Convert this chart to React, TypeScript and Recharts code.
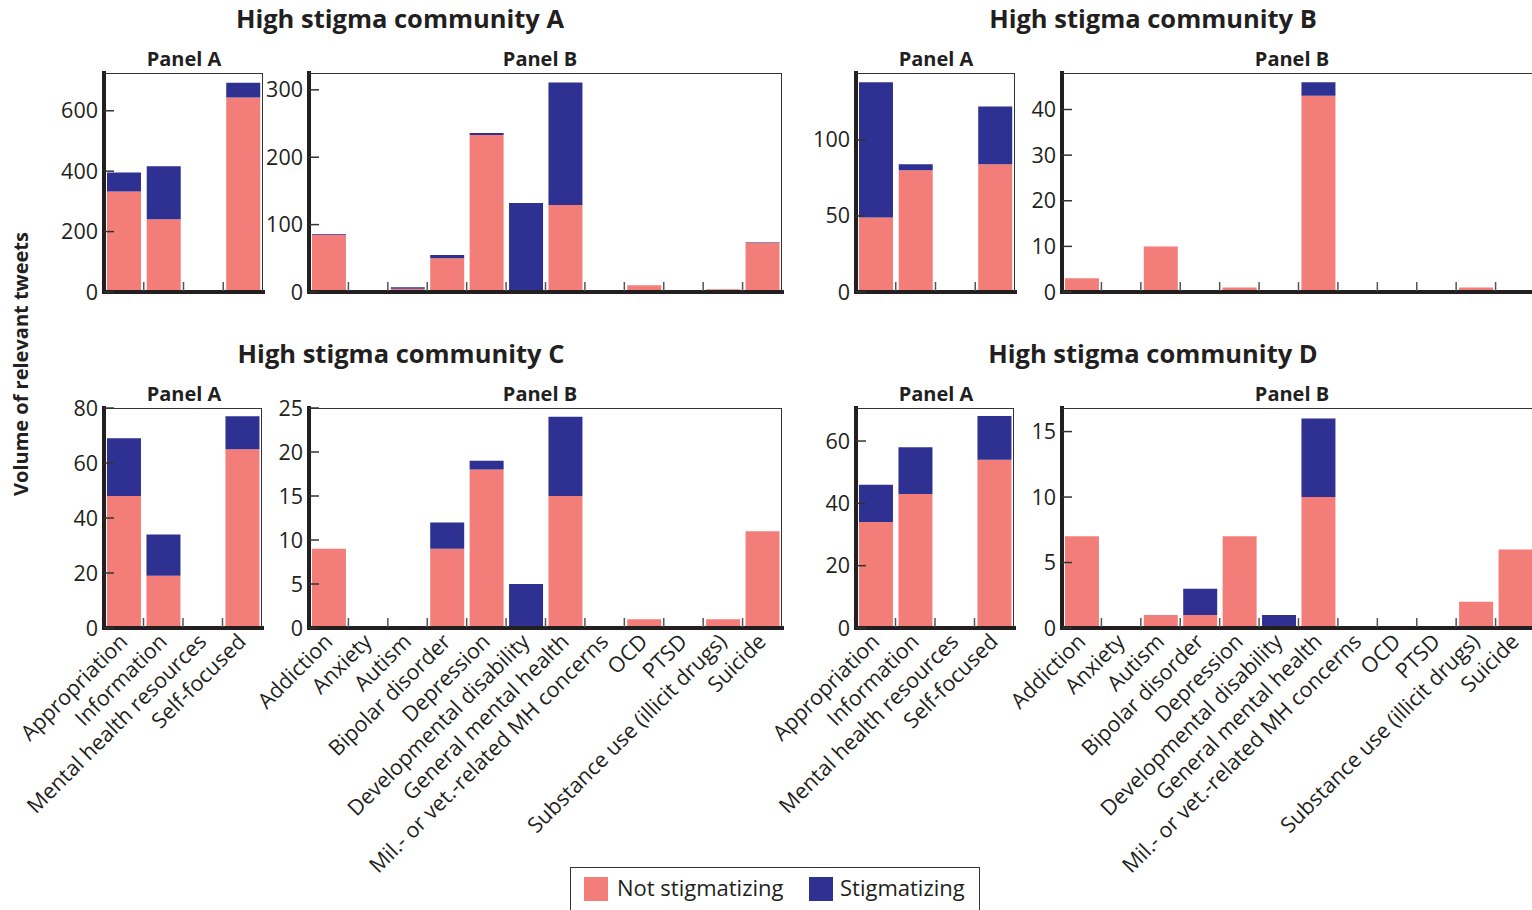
import React from "react";
import { BarChart, Bar, XAxis, YAxis } from "recharts";

// categories
const panelACats = ["Appropriation", "Information", "Mental health resources", "Self-focused"];
const panelBCats = [
  "Addiction",
  "Anxiety",
  "Autism",
  "Bipolar disorder",
  "Depression",
  "Developmental disability",
  "General mental health",
  "Mil.- or vet.-related MH concerns",
  "OCD",
  "PTSD",
  "Substance use (illicit drugs)",
  "Suicide",
];

// community A
const aPanelANot = [333, 241, 0, 644];
const aPanelAStig = [63, 175, 0, 49];
const aPanelBNot = [85, 0, 5, 50, 233, 0, 129, 0, 10, 0, 4, 73];
const aPanelBStig = [1, 0, 2, 5, 3, 132, 182, 0, 0, 0, 0, 1];

// community B
const bPanelANot = [49, 80, 0, 84];
const bPanelAStig = [89, 4, 0, 38];
const bPanelBNot = [3, 0, 10, 0, 1, 0, 43, 0, 0, 0, 1, 0];
const bPanelBStig = [0, 0, 0, 0, 0, 0, 3, 0, 0, 0, 0, 0];

// community C
const cPanelANot = [48, 19, 0, 65];
const cPanelAStig = [21, 15, 0, 12];
const cPanelBNot = [9, 0, 0, 9, 18, 0, 15, 0, 1, 0, 1, 11];
const cPanelBStig = [0, 0, 0, 3, 1, 5, 9, 0, 0, 0, 0, 0];

// community D
const dPanelANot = [34, 43, 0, 54];
const dPanelAStig = [12, 15, 0, 14];
const dPanelBNot = [7, 0, 1, 1, 7, 0, 10, 0, 0, 0, 2, 6];
const dPanelBStig = [0, 0, 0, 2, 0, 1, 6, 0, 0, 0, 0, 0];

// y ticks
const aPanelATicks = [0, 200, 400, 600];
const aPanelBTicks = [0, 100, 200, 300];
const bPanelATicks = [0, 50, 100];
const bPanelBTicks = [0, 10, 20, 30, 40];
const cPanelATicks = [0, 20, 40, 60, 80];
const cPanelBTicks = [0, 5, 10, 15, 20, 25];
const dPanelATicks = [0, 20, 40, 60];
const dPanelBTicks = [0, 5, 10, 15];

const NOT_COLOR = "#f37e79";
const STIG_COLOR = "#2e3192";
const INK = "#231f20";
const FONT = "'Open Sans', 'Noto Sans', sans-serif";
const TICK_SIZE = 21.5;

function toRows(cats: string[], not: number[], stig: number[]) {
  return cats.map((name, i) => ({ name, not: not[i], stig: stig[i] }));
}

const YTick = (props: any) => {
  const { x, y, payload } = props;
  return (
    <g>
      <line x1={x + 6} x2={x + 16} y1={y} y2={y} stroke="#333" strokeWidth={1.5} />
      <text x={x} y={y} dy={7.5} textAnchor="end" fontSize={TICK_SIZE} fill={INK} fontFamily={FONT}>
        {payload.value}
      </text>
    </g>
  );
};

type PanelProps = {
  cats: string[];
  not: number[];
  stig: number[];
  x: number;
  y: number;
  w: number;
  h: number;
  yMax: number;
  yTicks: number[];
  labels: boolean;
  padLeft: number;
};

function Panel({ cats, not, stig, x, y, w, h, yMax, yTicks, labels, padLeft }: PanelProps) {
  const yAxisW = 60;
  const topPad = 16;
  const bottomH = labels ? 280 : 16;
  const band = w / cats.length;
  const data = toRows(cats, not, stig);

  const XTick = (props: any) => {
    const { x: tx, y: ty, payload, index } = props;
    return (
      <g>
        {index < cats.length - 1 && (
          <line x1={tx + band / 2} x2={tx + band / 2} y1={ty - 1} y2={ty - 10} stroke="#555" strokeWidth={1.5} />
        )}
        {labels && (
          <text
            x={tx + 5}
            y={ty + 15}
            textAnchor="end"
            fontSize={TICK_SIZE}
            fill={INK}
            fontFamily={FONT}
            transform={`rotate(-45, ${tx + 5}, ${ty + 15})`}
          >
            {payload.value}
          </text>
        )}
      </g>
    );
  };

  return (
    <div style={{ position: "absolute", left: x - yAxisW - padLeft, top: y - topPad }}>
      <BarChart
        width={padLeft + yAxisW + w + 4}
        height={topPad + h + bottomH}
        data={data}
        margin={{ top: topPad, right: 4, bottom: 0, left: padLeft }}
        barCategoryGap="7.5%"
      >
        <XAxis
          dataKey="name"
          interval={0}
          tickSize={0}
          tickMargin={0}
          height={bottomH}
          axisLine={{ stroke: INK, strokeWidth: 4, strokeLinecap: "square" } as any}
          tickLine={false}
          tick={XTick}
        />
        <YAxis
          type="number"
          domain={[0, yMax]}
          ticks={yTicks}
          width={yAxisW}
          tickSize={0}
          tickMargin={6}
          axisLine={{ stroke: INK, strokeWidth: 4, strokeLinecap: "square" } as any}
          tickLine={false}
          tick={YTick}
        />
        <Bar dataKey="not" stackId="s" fill={NOT_COLOR} isAnimationActive={false} />
        <Bar dataKey="stig" stackId="s" fill={STIG_COLOR} isAnimationActive={false} />
      </BarChart>
      <div
        style={{
          position: "absolute",
          left: padLeft + yAxisW,
          top: topPad,
          width: w,
          height: h,
          borderTop: "1.5px solid #333",
          borderRight: "1.5px solid #333",
          boxSizing: "border-box",
          pointerEvents: "none",
        }}
      />
    </div>
  );
}

const Title = ({ text, cx, cy, size }: { text: string; cx: number; cy: number; size: number }) => (
  <div
    style={{
      position: "absolute",
      left: cx,
      top: cy,
      transform: "translate(-50%, -50%)",
      fontFamily: FONT,
      fontWeight: 700,
      fontSize: size,
      color: INK,
      whiteSpace: "nowrap",
    }}
  >
    {text}
  </div>
);

export default function App() {
  return (
    <div
      style={{
        position: "absolute",
        left: 0,
        top: 0,
        width: 1532,
        height: 910,
        overflow: "hidden",
        background: "#fff",
        fontFamily: FONT,
      }}
    >
      <Panel cats={panelACats} not={aPanelANot} stig={aPanelAStig} x={104} y={73} w={159} h={219} yMax={725} yTicks={aPanelATicks} labels={false} padLeft={44} />
      <Panel cats={panelBCats} not={aPanelBNot} stig={aPanelBStig} x={309} y={73} w={473} h={219} yMax={325} yTicks={aPanelBTicks} labels={false} padLeft={0} />
      <Panel cats={panelACats} not={bPanelANot} stig={bPanelAStig} x={856} y={73} w={159} h={219} yMax={144} yTicks={bPanelATicks} labels={false} padLeft={40} />
      <Panel cats={panelBCats} not={bPanelBNot} stig={bPanelBStig} x={1062} y={73} w={473} h={219} yMax={48} yTicks={bPanelBTicks} labels={false} padLeft={0} />

      <Panel cats={panelACats} not={cPanelANot} stig={cPanelAStig} x={104} y={408} w={158} h={220} yMax={80} yTicks={cPanelATicks} labels={true} padLeft={44} />
      <Panel cats={panelBCats} not={cPanelBNot} stig={cPanelBStig} x={309} y={408} w={473} h={220} yMax={25} yTicks={cPanelBTicks} labels={true} padLeft={0} />
      <Panel cats={panelACats} not={dPanelANot} stig={dPanelAStig} x={856} y={408} w={158} h={220} yMax={70.6} yTicks={dPanelATicks} labels={true} padLeft={40} />
      <Panel cats={panelBCats} not={dPanelBNot} stig={dPanelBStig} x={1062} y={408} w={473} h={220} yMax={16.8} yTicks={dPanelBTicks} labels={true} padLeft={0} />

      <Title text="High stigma community A" cx={400} cy={18} size={25.5} />
      <Title text="High stigma community B" cx={1153} cy={18} size={25.5} />
      <Title text="High stigma community C" cx={401} cy={353} size={25.5} />
      <Title text="High stigma community D" cx={1153} cy={353} size={25.5} />

      <Title text="Panel A" cx={184} cy={58} size={20} />
      <Title text="Panel B" cx={540} cy={58} size={20} />
      <Title text="Panel A" cx={936} cy={58} size={20} />
      <Title text="Panel B" cx={1292} cy={58} size={20} />
      <Title text="Panel A" cx={184} cy={393} size={20} />
      <Title text="Panel B" cx={540} cy={393} size={20} />
      <Title text="Panel A" cx={936} cy={393} size={20} />
      <Title text="Panel B" cx={1292} cy={393} size={20} />

      <div
        style={{
          position: "absolute",
          left: 20,
          top: 364,
          transform: "translate(-50%, -50%) rotate(-90deg)",
          fontFamily: FONT,
          fontWeight: 700,
          fontSize: 20,
          color: INK,
          whiteSpace: "nowrap",
        }}
      >
        Volume of relevant tweets
      </div>

      <div
        style={{
          position: "absolute",
          left: 570,
          top: 867,
          width: 410,
          height: 60,
          border: "1.5px solid #333",
          boxSizing: "border-box",
          background: "#fff",
        }}
      >
        <div style={{ position: "absolute", left: 13, top: 9, width: 24, height: 24, background: NOT_COLOR }} />
        <div style={{ position: "absolute", left: 46, top: 4, fontSize: 22, color: INK, whiteSpace: "nowrap" }}>
          Not stigmatizing
        </div>
        <div style={{ position: "absolute", left: 238, top: 9, width: 24, height: 24, background: STIG_COLOR }} />
        <div style={{ position: "absolute", left: 269, top: 4, fontSize: 22, color: INK, whiteSpace: "nowrap" }}>
          Stigmatizing
        </div>
      </div>
    </div>
  );
}
